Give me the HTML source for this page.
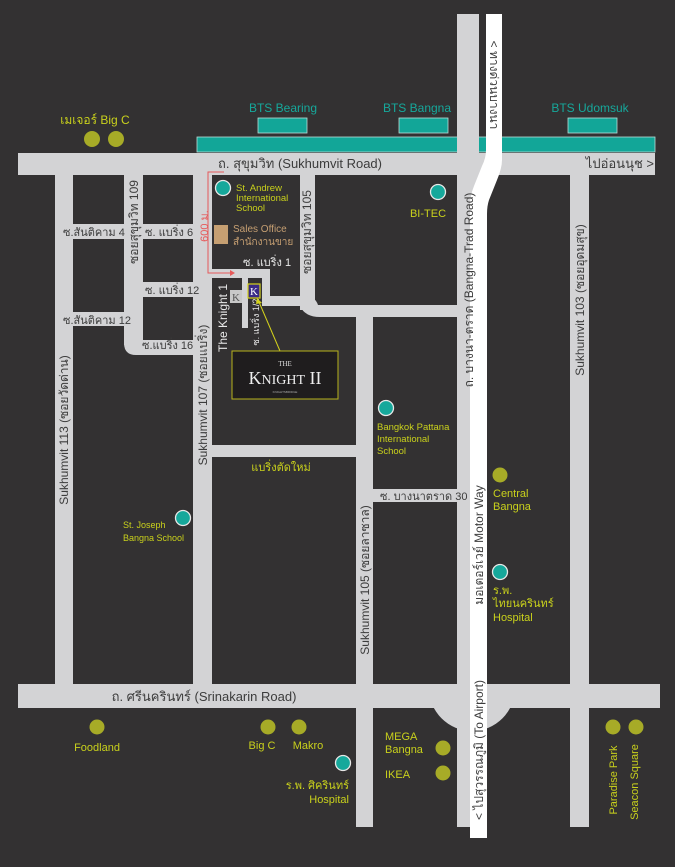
<!DOCTYPE html>
<html><head><meta charset="utf-8"><style>
html,body{margin:0;padding:0;background:#333132;}
svg{display:block}
text{font-family:"Liberation Sans","Noto Sans CJK SC",sans-serif;}
.r{fill:#d3d3d5}
.g{fill:#3c3c3c;font-size:11px}
.y{fill:#c9d11c;font-size:11px}
.t{fill:#16a89b;font-size:12px}
.tc{fill:#16a89b;stroke:#e8e8e8;stroke-width:1.3}
.oc{fill:#a7ab27}
</style></head><body>
<svg width="675" height="867" viewBox="0 0 675 867" xmlns="http://www.w3.org/2000/svg">
<rect width="675" height="867" fill="#333132"/>
<!-- teal BTS line -->
<rect x="197" y="137" width="458" height="15" fill="#12a698" stroke="#b9dcd8" stroke-width="0.8"/>
<rect x="258" y="118" width="49" height="15" fill="#12a698" stroke="#b9dcd8" stroke-width="0.8"/>
<rect x="399" y="118" width="49" height="15" fill="#12a698" stroke="#b9dcd8" stroke-width="0.8"/>
<rect x="568" y="118" width="49" height="15" fill="#12a698" stroke="#b9dcd8" stroke-width="0.8"/>
<text x="283" y="112" class="t" text-anchor="middle">BTS Bearing</text>
<text x="417" y="112" class="t" text-anchor="middle">BTS Bangna</text>
<text x="590" y="112" class="t" text-anchor="middle">BTS Udomsuk</text>
<!-- roundabout -->
<circle class="r" cx="472" cy="688" r="43"/>
<rect x="420" y="640" width="37" height="44" fill="#333132"/>
<rect x="487" y="640" width="40" height="44" fill="#333132"/>
<!-- roads -->
<rect class="r" x="18" y="153" width="637" height="22"/>
<rect class="r" x="55" y="175" width="18" height="510"/>
<rect class="r" x="124" y="175" width="19" height="170"/>
<path class="r" d="M124 330 L124 343 Q124 355 136 355 L193 355 L193 340 L143 340 L143 330 Z"/>
<rect class="r" x="193" y="175" width="19" height="510"/>
<rect class="r" x="73" y="224" width="120" height="15"/>
<rect class="r" x="143" y="282" width="50" height="15"/>
<rect class="r" x="73" y="312" width="51" height="14"/>
<rect class="r" x="212" y="269" width="58" height="9"/>
<rect class="r" x="242" y="278" width="6" height="50"/>
<rect class="r" x="262" y="269" width="8" height="36"/>
<rect class="r" x="300" y="175" width="15" height="135"/>
<path class="r" d="M262 296 L305 296 Q315 296 318 305 L458 305 L458 317 L320 317 Q305 317 300 306 L262 306 Z"/>
<rect class="r" x="212" y="445" width="144" height="12"/>
<rect class="r" x="356" y="305" width="17" height="522"/>
<rect class="r" x="373" y="489" width="86" height="13"/>
<rect class="r" x="457" y="14" width="22" height="813"/>
<rect class="r" x="570" y="175" width="19" height="652"/>
<rect class="r" x="18" y="684" width="642" height="24"/>
<!-- white motorway -->
<path d="M486 14 L502 14 L502 160 Q502 168 497 180 L489 200 Q487 206 487 214 L487 838 L470 838 L470 205 Q470 196 474 186 L482 166 Q486 158 486 150 Z" fill="#ffffff"/>
<!-- road labels -->
<text x="300" y="168" class="g" style="font-size:13px" text-anchor="middle">ถ. สุขุมวิท (Sukhumvit Road)</text>
<text x="654" y="168" class="g" style="font-size:13px" text-anchor="end">ไปอ่อนนุช &gt;</text>
<text x="63" y="236" class="g">ซ.สันติคาม 4</text>
<text x="145" y="236" class="g">ซ. แบริ่ง 6</text>
<text x="145" y="294" class="g">ซ. แบริ่ง 12</text>
<text x="63" y="324" class="g">ซ.สันติคาม 12</text>
<text x="142" y="349" class="g">ซ.แบริ่ง 16</text>
<text x="243" y="266" style="fill:#e8e8e8;font-size:11px">ซ. แบริ่ง 1</text>
<text x="380" y="500" class="g">ซ. บางนาตราด 30</text>
<text x="204" y="701" class="g" style="font-size:13px" text-anchor="middle">ถ. ศรีนครินทร์ (Srinakarin Road)</text>
<text transform="translate(68,430) rotate(-90)" class="g" style="font-size:12px" text-anchor="middle">Sukhumvit 113 (ซอยวัดด่าน)</text>
<text transform="translate(138,222) rotate(-90)" class="g" style="font-size:12px" text-anchor="middle">ซอยสุขุมวิท 109</text>
<text transform="translate(207,395) rotate(-90)" class="g" style="font-size:12px" text-anchor="middle">Sukhumvit 107 (ซอยแบริ่ง)</text>
<text transform="translate(311,232) rotate(-90)" class="g" style="font-size:12px" text-anchor="middle">ซอยสุขุมวิท 105</text>
<text transform="translate(369,580) rotate(-90)" class="g" style="font-size:12px" text-anchor="middle">Sukhumvit 105 (ซอยลาซาล)</text>
<text transform="translate(473,290) rotate(-90)" class="g" style="font-size:12px" text-anchor="middle">ถ. บางนา-ตราด (Bangna-Trad Road)</text>
<text transform="translate(483,545) rotate(-90)" class="g" style="font-size:12px" text-anchor="middle">มอเตอร์เวย์  Motor Way</text>
<text transform="translate(483,750) rotate(-90)" class="g" style="font-size:12px" text-anchor="middle">&lt; ไปสุวรรณภูมิ (To Airport)</text>
<text transform="translate(490,85) rotate(90)" class="g" style="font-size:12px" text-anchor="middle">&lt; ทางด่วนบางนา</text>
<text transform="translate(584,300) rotate(-90)" class="g" style="font-size:12px" text-anchor="middle">Sukhumvit 103 (ซอยอุดมสุข)</text>
<text transform="translate(227,318) rotate(-90)" style="fill:#e8e8e8;font-size:12px" text-anchor="middle">The Knight 1</text>
<text transform="translate(259,322) rotate(-90)" style="fill:#e8e8e8;font-size:9px" text-anchor="middle">ซ. แบริ่ง 1/2</text>
<!-- red 600m -->
<path d="M224 172 L208 172 L208 273 L232 273" fill="none" stroke="#e65a5a" stroke-width="1"/>
<path d="M230 270 L235 273 L230 276 Z" fill="#e65a5a"/>
<text transform="translate(208,226) rotate(-90)" style="fill:#e65a5a;font-size:11px" text-anchor="middle">600 ม.</text>
<!-- K markers -->
<rect x="230" y="290" width="12" height="13" fill="#c8c8c8"/>
<text x="236" y="301" text-anchor="middle" style="font-family:'Liberation Serif',serif;font-size:11px;fill:#555">K</text>
<rect x="248" y="284" width="12" height="14" fill="#3a2a86" stroke="#d4d21c" stroke-width="1.2"/>
<text x="254" y="295" text-anchor="middle" style="font-family:'Liberation Serif',serif;font-size:11px;fill:#fff">K</text>
<line x1="259" y1="302" x2="280" y2="351" stroke="#d4d21c" stroke-width="1"/>
<path d="M257 298 L262 303 L256 304 Z" fill="#d4d21c"/>
<rect x="232" y="351" width="106" height="48" fill="#1f1d1e" stroke="#b7b21c" stroke-width="1"/>
<text x="285" y="366" text-anchor="middle" style="font-family:'Liberation Serif',serif;font-size:7px;fill:#ddd">THE</text>
<text x="285" y="384" text-anchor="middle" style="font-family:'Liberation Serif',serif;font-size:18px;fill:#eee">K<tspan style="font-size:14px">NIGHT</tspan> II</text>
<text x="285" y="393" text-anchor="middle" style="font-size:3px;fill:#aaa">KNIGHTSBRIDGE</text>
<!-- POIs -->
<text x="95" y="124" class="y" style="font-size:12px" text-anchor="middle">เมเจอร์  Big C</text>
<circle class="oc" cx="92" cy="139" r="8"/><circle class="oc" cx="116" cy="139" r="8"/>
<circle class="tc" cx="223" cy="188" r="7.5"/>
<text x="236" y="191" class="y" style="font-size:9.5px">St. Andrew</text>
<text x="236" y="201" class="y" style="font-size:9.5px">International</text>
<text x="236" y="211" class="y" style="font-size:9.5px">School</text>
<rect x="214" y="225" width="14" height="19" fill="#c69f72"/>
<text x="233" y="232" style="fill:#c69f72;font-size:10px">Sales Office</text>
<text x="233" y="245" style="fill:#c69f72;font-size:10px">สำนักงานขาย</text>
<circle class="tc" cx="438" cy="192" r="7.5"/>
<text x="428" y="217" class="y" style="font-size:11px" text-anchor="middle">BI-TEC</text>
<circle class="tc" cx="386" cy="408" r="7.5"/>
<text x="377" y="430" class="y" style="font-size:9.5px">Bangkok Pattana</text>
<text x="377" y="442" class="y" style="font-size:9.5px">International</text>
<text x="377" y="454" class="y" style="font-size:9.5px">School</text>
<text x="281" y="471" class="y" text-anchor="middle">แบริ่งตัดใหม่</text>
<circle class="tc" cx="183" cy="518" r="7.5"/>
<text x="123" y="528" class="y" style="font-size:9px">St. Joseph</text>
<text x="123" y="541" class="y" style="font-size:9px">Bangna School</text>
<circle class="oc" cx="500" cy="475" r="7.5"/>
<text x="493" y="497" class="y" style="font-size:11px">Central</text>
<text x="493" y="510" class="y" style="font-size:11px">Bangna</text>
<circle class="tc" cx="500" cy="572" r="7.5"/>
<text x="493" y="594" class="y" style="font-size:11px">ร.พ.</text>
<text x="493" y="607" class="y" style="font-size:11px">ไทยนครินทร์</text>
<text x="493" y="621" class="y" style="font-size:11px">Hospital</text>
<circle class="oc" cx="97" cy="727" r="7.5"/>
<text x="97" y="751" class="y" text-anchor="middle">Foodland</text>
<circle class="oc" cx="268" cy="727" r="7.5"/><circle class="oc" cx="299" cy="727" r="7.5"/>
<text x="262" y="749" class="y" text-anchor="middle">Big C</text>
<text x="308" y="749" class="y" text-anchor="middle">Makro</text>
<circle class="tc" cx="343" cy="763" r="7.5"/>
<text x="349" y="789" class="y" text-anchor="end">ร.พ. ศิครินทร์</text>
<text x="349" y="803" class="y" text-anchor="end">Hospital</text>
<text x="385" y="740" class="y">MEGA</text>
<text x="385" y="753" class="y">Bangna</text>
<circle class="oc" cx="443" cy="748" r="7.5"/>
<text x="385" y="778" class="y">IKEA</text>
<circle class="oc" cx="443" cy="773" r="7.5"/>
<circle class="oc" cx="613" cy="727" r="7.5"/><circle class="oc" cx="636" cy="727" r="7.5"/>
<text transform="translate(617,780) rotate(-90)" class="y" text-anchor="middle">Paradise Park</text>
<text transform="translate(638,782) rotate(-90)" class="y" text-anchor="middle">Seacon Square</text>
</svg>
</body></html>
